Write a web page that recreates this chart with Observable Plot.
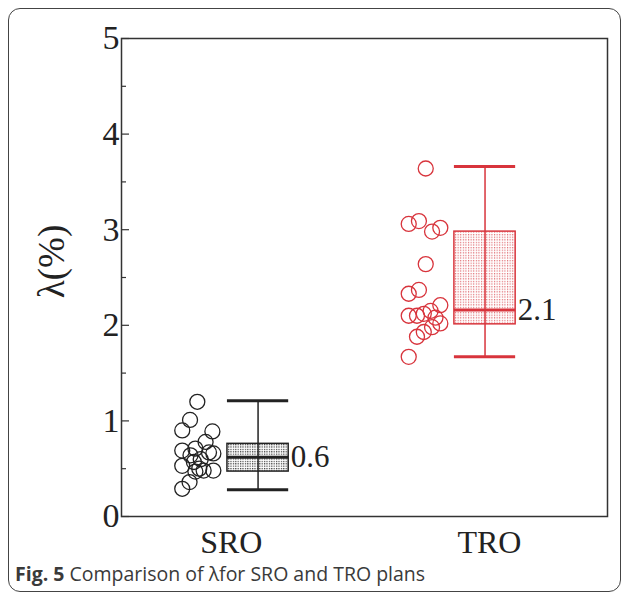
<!DOCTYPE html>
<html><head><meta charset="utf-8">
<script src="https://cdn.jsdelivr.net/npm/d3@7"></script>
<script src="https://cdn.jsdelivr.net/npm/@observablehq/plot@0.6"></script>
<style>
body{margin:0;background:#fff;}
#wrap{position:relative;width:627px;height:599px;overflow:hidden;}
#border{position:absolute;left:8px;top:8px;width:611px;height:582px;border:1.5px solid #444;border-radius:12px;}
#chart{position:absolute;left:0;top:0;}
#caption{position:absolute;left:15px;top:561px;font-family:"Open Sans";font-size:19.5px;line-height:26px;color:#3a3a3a;white-space:nowrap;}
</style></head><body>
<div id="wrap"><div id="border"></div><div id="chart"></div><div id="caption"><b>Fig. 5</b> Comparison of λfor SRO and TRO plans</div></div>
<script>
// ---- data ----
const categories = ["SRO", "TRO"];
const categoryX = [2.26, 7.57];
const boxX = [2.81, 7.48];
const whiskerLow = [0.28, 1.67];
const q1 = [0.47, 2.01];
const median = [0.62, 2.16];
const q3 = [0.76, 2.98];
const whiskerHigh = [1.21, 3.66];
const medianLabels = ["0.6", "2.1"];
const sroX = [1.56, 1.41, 1.25, 1.87, 1.73, 1.25, 1.89, 1.25, 1.89, 1.40, 1.25, 1.52, 1.42, 1.63, 1.49, 1.69, 1.52, 1.80, 1.60];
const sroY = [1.20, 1.01, 0.90, 0.89, 0.78, 0.69, 0.66, 0.53, 0.48, 0.36, 0.29, 0.71, 0.64, 0.60, 0.57, 0.48, 0.47, 0.67, 0.50];
const troX = [6.26, 5.91, 6.12, 6.39, 6.56, 6.26, 5.91, 6.12, 5.91, 6.08, 6.22, 6.36, 6.56, 6.46, 6.56, 6.39, 6.22, 6.08, 5.91];
const troY = [3.64, 3.06, 3.09, 2.98, 3.02, 2.64, 2.33, 2.37, 2.10, 2.10, 2.12, 2.15, 2.21, 2.08, 2.02, 1.98, 1.93, 1.88, 1.67];
const yTicks = [0, 1, 2, 3, 4, 5];
const yMinorTicks = [0.5, 1.5, 2.5, 3.5, 4.5];
const yTitle = "λ(%)";

// ---- styles ----
const colors = ["#222222", "#d8343c"];
const patterns = ["url(#dotsK)", "url(#dotsR)"];
const hw = 0.63;

const boxes = categories.map((c, i) => ({
  cat: c, x: boxX[i], lo: whiskerLow[i], q1: q1[i], med: median[i], q3: q3[i], hi: whiskerHigh[i],
  label: medianLabels[i], color: colors[i], pattern: patterns[i]
}));
const points = [
  ...sroX.map((x, i) => ({x, y: sroY[i], color: colors[0]})),
  ...troX.map((x, i) => ({x, y: troY[i], color: colors[1]}))
];

const serif = "Liberation Serif";
const plot = Plot.plot({
  width: 627, height: 560,
  marginLeft: 121, marginRight: 20, marginTop: 38, marginBottom: 44,
  x: {domain: [0, 10]},
  y: {domain: [0, 5]},
  style: {fontFamily: serif, color: "#222", background: "transparent"},
  marks: [
    Plot.axisY(yTicks, {tickSize: 0, tickPadding: 2, fontSize: 34, fill: "#222", label: null, tickFormat: d => String(d)}),
    Plot.axisY(yTicks, {tickSize: -8, text: null, label: null, stroke: "#333", strokeWidth: 1.2}),
    Plot.axisY(yMinorTicks, {tickSize: -5, text: null, label: null, stroke: "#333", strokeWidth: 1.2}),
    Plot.axisX(categoryX, {tickSize: 0, tickPadding: 14, fontSize: 32, fill: "#222", label: null,
      tickFormat: d => categories[categoryX.indexOf(d)]}),
    Plot.text([yTitle], {frameAnchor: "left", textAnchor: "middle", dx: -69, dy: -16, rotate: -90, fontSize: 37, fill: "#222", text: d => d}),
    Plot.rect(boxes, {x1: d => d.x - hw, x2: d => d.x + hw, y1: "q1", y2: "q3", fill: "pattern", stroke: "color", strokeWidth: 1.5}),
    Plot.ruleX(boxes, {x: "x", y1: "lo", y2: "hi", stroke: "color", strokeWidth: 1.5}),
    Plot.ruleY(boxes, {y: "hi", x1: d => d.x - hw, x2: d => d.x + hw, stroke: "color", strokeWidth: 3}),
    Plot.ruleY(boxes, {y: "lo", x1: d => d.x - hw, x2: d => d.x + hw, stroke: "color", strokeWidth: 3}),
    Plot.ruleY(boxes, {y: "med", x1: d => d.x - hw, x2: d => d.x + hw, stroke: "color", strokeWidth: 3}),
    Plot.text(boxes, {x: d => d.x + hw, y: "med", text: "label", textAnchor: "start", dx: 2, fontSize: 31, fill: "#222"}),
    Plot.dot(points, {x: "x", y: "y", r: 7.5, stroke: "color", strokeWidth: 1.3, fill: "none"}),
    Plot.frame({stroke: "#333", strokeWidth: 1.5})
  ]
});
d3.select(plot).insert("defs", ":first-child").html(`
  <pattern id="dotsK" width="2.4" height="2.4" patternUnits="userSpaceOnUse">
    <rect width="2.4" height="2.4" fill="#fff"/><rect width="1.2" height="1.2" fill="#333"/>
  </pattern>
  <pattern id="dotsR" width="2.6" height="2.6" patternUnits="userSpaceOnUse">
    <rect width="2.6" height="2.6" fill="#fff"/><rect width="1.1" height="1.3" fill="#e06a70"/>
  </pattern>`);
document.getElementById("chart").appendChild(plot);
</script>
</body></html>
